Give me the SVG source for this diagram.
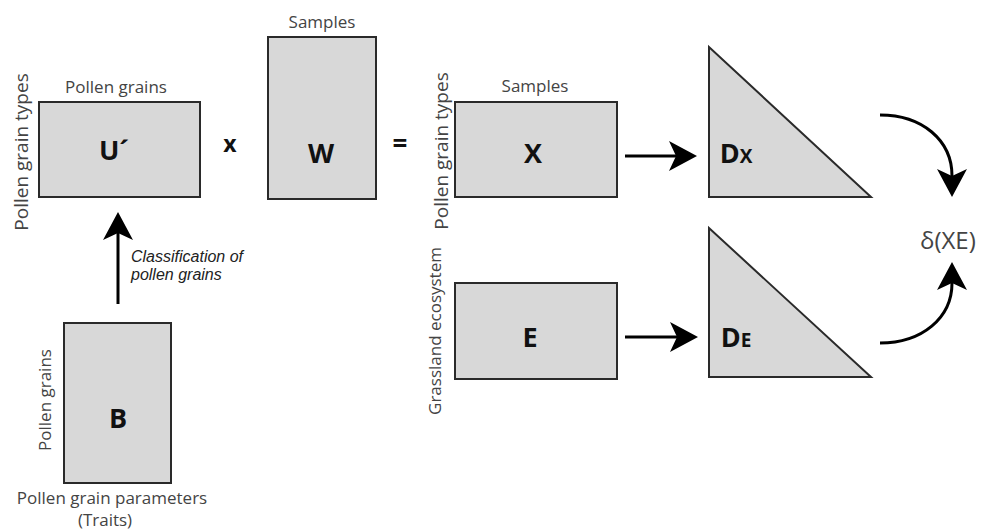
<svg xmlns="http://www.w3.org/2000/svg" width="982" height="532" viewBox="0 0 982 532">
<style>
.box{fill:#d8d8d8;stroke:#2a2a2a;stroke-width:2}
.lbl{font-family:"Open Sans","Liberation Sans",sans-serif;font-size:17px;fill:#444}
.vl{font-size:19px}
.big{font-family:"Open Sans","Liberation Sans",sans-serif;font-weight:bold;font-size:27px;fill:#111;text-anchor:middle}
.ital{font-family:"Liberation Sans",sans-serif;font-style:italic;font-size:16px;fill:#222}
.conn{fill:none;stroke:#000;stroke-width:3}
</style>
<defs>
<marker id="ah" markerUnits="userSpaceOnUse" viewBox="-1 -16 30 32" markerWidth="30" markerHeight="32" refX="7" refY="0" orient="auto">
<path d="M0,-15 L28,0 L0,15 L7,0 Z" fill="#000"/>
</marker>
</defs>
<rect width="982" height="532" fill="#fff"/>

<g id="U">
<rect class="box" x="39" y="102" width="161" height="95"/>
<text class="big" x="114" y="160">U´</text>
<text class="lbl" x="116" y="93" text-anchor="middle">Pollen grains</text>
<text class="lbl vl" transform="translate(28,152) rotate(-90)" text-anchor="middle">Pollen grain types</text>
</g>

<g id="times">
<text x="230" y="152" font-family="Open Sans, Liberation Sans, sans-serif" font-weight="bold" font-size="23" fill="#111" text-anchor="middle">x</text>
</g>

<g id="W">
<rect class="box" x="268" y="37" width="108" height="162"/>
<text class="big" x="321" y="163">W</text>
<text class="lbl" x="322" y="28" text-anchor="middle">Samples</text>
</g>

<g id="equals">
<text x="400" y="153" font-family="Open Sans, Liberation Sans, sans-serif" font-weight="bold" font-size="26" fill="#111" text-anchor="middle">=</text>
</g>

<g id="X">
<rect class="box" x="455" y="102" width="162" height="95"/>
<text class="big" x="533" y="163">X</text>
<text class="lbl" x="535" y="92" text-anchor="middle">Samples</text>
<text class="lbl vl" transform="translate(448,151) rotate(-90)" text-anchor="middle">Pollen grain types</text>
</g>

<g id="E">
<rect class="box" x="455" y="283" width="162" height="96"/>
<text class="big" x="530" y="347">E</text>
<text class="lbl" font-size="17.5" transform="translate(441,331) rotate(-90)" text-anchor="middle">Grassland ecosystem</text>
</g>

<g id="DX">
<polygon class="box" points="709,47 709,197 871,197"/>
<text class="big" x="736" y="163" text-anchor="start">D<tspan font-size="19">X</tspan></text>
</g>

<g id="DE">
<polygon class="box" points="709,228 709,377 871,377"/>
<text class="big" x="736" y="347" text-anchor="start">D<tspan font-size="19">E</tspan></text>
</g>

<g id="delta">
<text x="920" y="249" font-family="Open Sans, Liberation Sans, sans-serif" font-size="24" fill="#444">δ(XE)</text>
</g>

<g id="B">
<rect class="box" x="64" y="323" width="107" height="160"/>
<text class="big" x="118" y="428">B</text>
<text class="lbl" transform="translate(51,400) rotate(-90)" text-anchor="middle">Pollen grains</text>
<text class="lbl" font-size="16.5" x="112" y="504" text-anchor="middle">Pollen grain parameters</text>
<text class="lbl" font-size="16.5" x="105" y="526" text-anchor="middle">(Traits)</text>
</g>

<g id="connectors">
<path class="conn" d="M118,304 L118,233" marker-end="url(#ah)"/>
<path class="conn" d="M625,156 L676,156" marker-end="url(#ah)"/>
<path class="conn" d="M625,337 L677,337" marker-end="url(#ah)"/>
<path class="conn" d="M880,115 C922,115 952,140 952,176" marker-end="url(#ah)"/>
<path class="conn" d="M880,343 C922,343 952,318 952,283" marker-end="url(#ah)"/>
<text class="ital" x="131" y="262">Classification of</text>
<text class="ital" x="131" y="280">pollen grains</text>
</g>
</svg>
